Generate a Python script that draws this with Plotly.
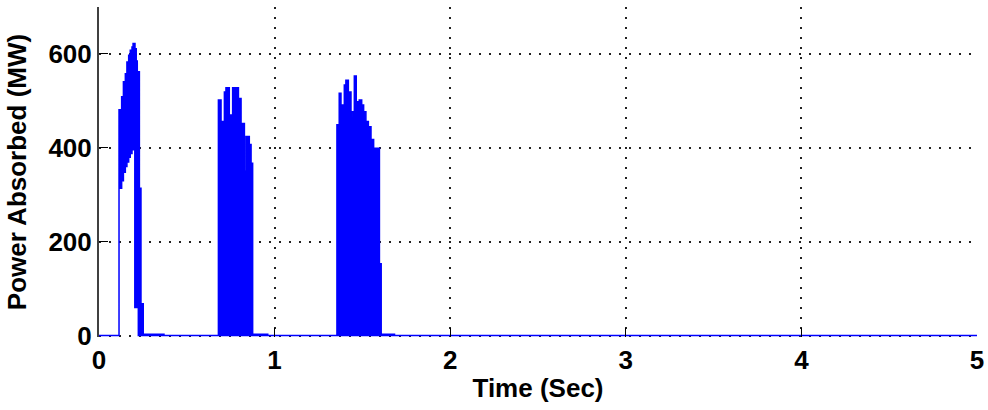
import plotly.graph_objects as go

# Envelope of the dense oscillating power signal
time_upper = [0.0, 0.114, 0.129, 0.139, 0.150, 0.159, 0.169, 0.178, 0.188, 0.194, 0.205, 0.212,
              0.218, 0.230, 0.239, 0.252, 0.370,
              0.680, 0.695, 0.714, 0.723, 0.742, 0.761, 0.794, 0.809, 0.828, 0.837, 0.856,
              0.866, 0.875, 0.961,
              1.355, 1.368, 1.378, 1.397, 1.406, 1.420, 1.435, 1.446, 1.454, 1.465, 1.482,
              1.496, 1.507, 1.520, 1.534, 1.549, 1.564, 1.597, 1.607, 1.683, 5.0]
power_upper = [0, 481, 509, 541, 558, 583, 597, 608, 615, 622, 611, 585,
               562, 314, 68, 3, 0,
               502, 456, 519, 528, 470, 528, 505, 452, 350, 424, 407,
               367, 3, 0,
               449, 516, 491, 534, 544, 519, 477, 465, 553, 498, 502,
               491, 477, 456, 445, 418, 399, 153, 3, 0, 0]

time_lower = [0.0, 0.114, 0.129, 0.139, 0.150, 0.159, 0.169, 0.178, 0.188, 0.197, 0.204, 0.224, 5.0]
power_lower = [0, 314, 330, 348, 360, 370, 380, 388, 396, 403, 60, 0, 0]

x_ticks = [0, 1, 2, 3, 4, 5]
y_ticks = [0, 200, 400, 600]


def as_steps(xs, ys):
    """Turn sample-and-hold values into explicit step vertices (same data, hv shape)."""
    sx, sy = [], []
    for i, (x, y) in enumerate(zip(xs, ys)):
        if i > 0:
            sx.append(x)
            sy.append(ys[i - 1])
        sx.append(x)
        sy.append(y)
    return sx, sy


BLUE = "#0000ff"
font = dict(family="Liberation Sans, Arial, sans-serif", size=26, color="black", weight="bold")

lx, ly = as_steps(time_lower, power_lower)
ux, uy = as_steps(time_upper, power_upper)

# one closed band: upper envelope forward, lower envelope back
band_x = ux + lx[::-1]
band_y = uy + ly[::-1]

fig = go.Figure()
fig.add_trace(go.Scatter(x=band_x, y=band_y, mode="lines",
                         line=dict(color=BLUE, width=1.5, simplify=False),
                         fill="toself", fillcolor=BLUE, hoverinfo="skip"))

grid = dict(showgrid=True, gridcolor="#222222", gridwidth=1.5, griddash="2px,8px")

fig.update_layout(
    width=988, height=410,
    margin=dict(l=99, r=11, t=7, b=73),
    paper_bgcolor="white", plot_bgcolor="white",
    showlegend=False,
    xaxis=dict(range=[0, 5], tickvals=x_ticks, ticktext=[str(v) for v in x_ticks],
               ticks="inside", ticklen=9, tickcolor="black", tickwidth=1,
               showline=False, zeroline=False, tickfont=font, automargin=False,
               ticklabelstandoff=5,
               title=dict(text="Time (Sec)", font=font, standoff=4), **grid),
    yaxis=dict(range=[-3, 700], tickvals=y_ticks, ticktext=[str(v) for v in y_ticks],
               ticks="inside", ticklen=9, tickcolor="black", tickwidth=1,
               showline=True, linecolor="#404040", linewidth=2, zeroline=False,
               tickfont=font, layer="below traces", automargin=False,
               title=dict(text="Power Absorbed (MW)", font=font, standoff=14), **grid),
)

fig.write_html("out.html")
